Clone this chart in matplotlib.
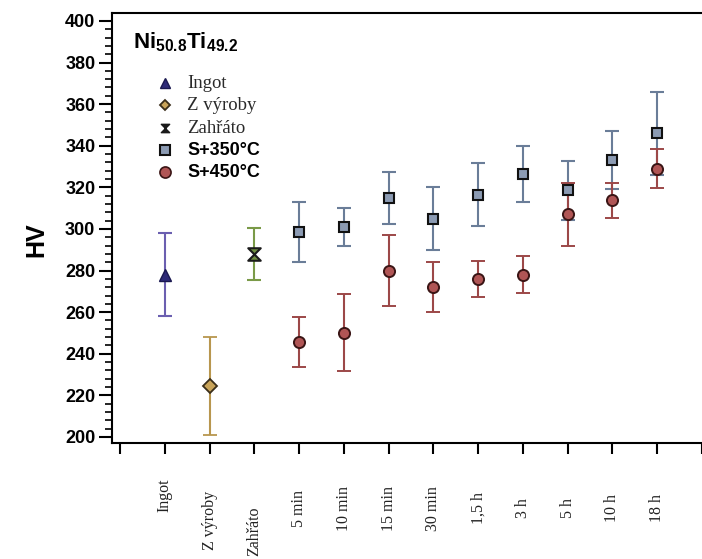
import matplotlib
matplotlib.use("Agg")
import matplotlib.pyplot as plt
from matplotlib.path import Path
from matplotlib.ticker import MultipleLocator
from matplotlib.lines import Line2D

plt.rcParams['mathtext.fontset'] = 'custom'
plt.rcParams['mathtext.bf'] = 'Liberation Sans:bold'
plt.rcParams['mathtext.rm'] = 'Liberation Sans'

# ---- data ----
categories = ['Ingot', 'Z výroby', 'Zahřáto', '5 min', '10 min', '15 min',
              '30 min', '1,5 h', '3 h', '5 h', '10 h', '18 h']

ingot_val, ingot_err = 278, 20
vyroby_val, vyroby_err = 224.5, 23.5
zahrato_val, zahrato_err = 288, 12.5

s350_vals = [298.5, 301, 315, 305, 316.5, 326.5, 318.5, 333, 346]
s350_errs = [14.5, 9, 12.5, 15, 15, 13.5, 14, 14, 20]
s450_vals = [245.5, 250, 280, 272, 276, 278, 307, 313.7, 329]
s450_errs = [12, 18.5, 17, 12, 8.5, 9, 15, 8.3, 9.5]

legend_labels = ['Ingot', 'Z výroby', 'Zahřáto', 'S+350°C', 'S+450°C']

# ---- figure ----
fig = plt.figure(figsize=(7.02, 5.59), dpi=100)
W, H = 702, 559
ax = fig.add_axes([112 / W, 1 - 443 / H, (702 - 112) / W, (443 - 13) / H])

hourglass = Path([(-1, 1), (1, 1), (-1, -1), (1, -1), (-1, 1)],
                 [Path.MOVETO, Path.LINETO, Path.LINETO, Path.LINETO, Path.CLOSEPOLY])

cap = 5
ax.errorbar([1], [ingot_val], yerr=[ingot_err], fmt='^', color='#6b5fb0',
            mfc='#2e2a78', mec='#1a1850', ms=9, capsize=cap, elinewidth=1.5, capthick=1.5)
ax.errorbar([2], [vyroby_val], yerr=[vyroby_err], fmt='D', color='#b8964e',
            mfc='#c9a45a', mec='#3a2e1a', ms=7, mew=1.3, capsize=cap, elinewidth=1.5, capthick=1.5)
ax.errorbar([3], [zahrato_val], yerr=[zahrato_err], fmt='none', ecolor='#7a9a48',
            capsize=cap, elinewidth=1.5, capthick=1.5)
ax.plot([3], [zahrato_val], marker=hourglass, color='#1a1a1a', mfc='#6f8f40',
        mec='#1a1a1a', ms=9, mew=1.5, ls='none')

xs = list(range(4, 4 + len(s350_vals)))
ax.errorbar(xs, s350_vals, yerr=s350_errs, fmt='s', color='#6a7d98',
            mfc='#8c9bb3', mec='#111111', ms=7, mew=1.5, capsize=cap, elinewidth=1.5, capthick=1.5)
ax.errorbar(xs, s450_vals, yerr=s450_errs, fmt='o', color='#9c4848',
            mfc='#b05555', mec='#3a1515', ms=8, mew=1.4, capsize=cap, elinewidth=1.5, capthick=1.5)

# ---- axes ----
ax.set_xlim(-8 / 44.8, 13.0)
ax.set_ylim(197.1, 403.8)
ax.spines['right'].set_visible(False)
for s in ['left', 'bottom', 'top']:
    ax.spines[s].set_linewidth(1.5)

ax.yaxis.set_major_locator(MultipleLocator(20))
ax.yaxis.set_minor_locator(MultipleLocator(4))
ax.tick_params(axis='y', which='major', direction='out', length=9.5, width=1.5, pad=2.5)
ax.tick_params(axis='y', which='minor', direction='out', length=5, width=1.2)
for lab in ax.get_yticklabels():
    lab.set_fontfamily('Liberation Sans')
    lab.set_fontweight('bold')
    lab.set_fontsize(13)

ax.set_xticks(range(0, 14))
ax.set_xticklabels([''] + categories + [''], rotation=90, va='center', ha='center',
                   family='Liberation Serif', fontsize=11.5, color='#222222')
ax.tick_params(axis='x', direction='out', length=8, width=1.5, pad=0)
offsets = {1: 41, 2: 66, 3: 77}
for i, lab in enumerate(ax.get_xticklabels()):
    off = offsets.get(i, 54)
    lab.set_y(-off / 430)

ax.set_ylabel('HV', family='Liberation Sans', fontweight='bold', fontsize=18)
ax.yaxis.set_label_coords((48 - 112) / 590, (443 - 240) / 430)

# ---- title ----
ax.text(133 / W, 1 - 42 / H, r'$\mathbf{Ni_{50.8}Ti_{49.2}}$', transform=fig.transFigure,
        fontsize=16, ha='left', va='center')

# ---- legend ----
handles = [
    Line2D([], [], marker='^', ls='none', mfc='#2e2a78', mec='#1a1850', ms=7),
    Line2D([], [], marker='D', ls='none', mfc='#c9a45a', mec='#3a2e1a', ms=5.5, mew=1.3),
    Line2D([], [], marker=hourglass, ls='none', mfc='#1a1a1a', mec='#1a1a1a', ms=6),
    Line2D([], [], marker='s', ls='none', mfc='#8c9bb3', mec='#111111', ms=7, mew=1.5),
    Line2D([], [], marker='o', ls='none', mfc='#b05555', mec='#3a1515', ms=8, mew=1.2),
]
leg = ax.legend(handles, legend_labels, loc='upper left',
                bbox_to_anchor=((158 - 112) / 590, (443 - 75) / 430),
                frameon=False, handlelength=1.0, handletextpad=1.1, labelspacing=0.38,
                borderaxespad=0, borderpad=0)
for i, t in enumerate(leg.get_texts()):
    if i < 3:
        t.set_fontfamily('Liberation Serif')
        t.set_fontsize(13.5)
        t.set_color('#2a2a2a')
    else:
        t.set_fontfamily('Liberation Sans')
        t.set_fontweight('bold')
        t.set_fontsize(13)

fig.savefig('out.png', dpi=100)
